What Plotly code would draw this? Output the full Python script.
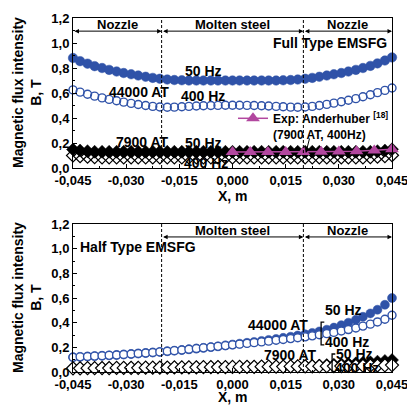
import plotly.graph_objects as go

# ---------------- data ----------------
x_pos = [-0.0450, -0.0430, -0.0409, -0.0389, -0.0368, -0.0348, -0.0327, -0.0307, -0.0286,
         -0.0266, -0.0245, -0.0225, -0.0205, -0.0184, -0.0164, -0.0143, -0.0123, -0.0102,
         -0.0082, -0.0061, -0.0041, -0.0020, 0.0000, 0.0020, 0.0041, 0.0061, 0.0082,
         0.0102, 0.0123, 0.0143, 0.0164, 0.0184, 0.0205, 0.0225, 0.0245, 0.0266, 0.0286,
         0.0307, 0.0327, 0.0348, 0.0368, 0.0389, 0.0409, 0.0430, 0.0450]

full_44000_50 = [0.880, 0.855, 0.835, 0.815, 0.800, 0.785, 0.772, 0.760, 0.750, 0.740, 0.730,
                 0.721, 0.714, 0.708, 0.704, 0.702, 0.700, 0.700, 0.700, 0.700, 0.700, 0.700,
                 0.700, 0.700, 0.700, 0.700, 0.700, 0.700, 0.700, 0.702, 0.704, 0.708, 0.714,
                 0.721, 0.730, 0.740, 0.750, 0.760, 0.772, 0.785, 0.800, 0.817, 0.837, 0.860,
                 0.885]
full_44000_400 = [0.625, 0.607, 0.590, 0.575, 0.561, 0.549, 0.538, 0.527, 0.517, 0.508, 0.500,
                  0.493, 0.488, 0.486, 0.487, 0.490, 0.493, 0.496, 0.498, 0.500, 0.501, 0.502,
                  0.502, 0.502, 0.501, 0.500, 0.498, 0.496, 0.493, 0.490, 0.487, 0.486, 0.488,
                  0.493, 0.500, 0.509, 0.519, 0.530, 0.542, 0.555, 0.570, 0.586, 0.603, 0.621,
                  0.640]
full_7900_50 = [0.148, 0.140, 0.135] + [0.130] * 39 + [0.135, 0.140, 0.150]
full_7900_400 = [0.100, 0.094, 0.090, 0.087] + [0.085] * 37 + [0.087, 0.090, 0.095, 0.102]

exp_x = [0.000, 0.005, 0.010, 0.015, 0.020, 0.025, 0.030, 0.035, 0.040, 0.045]
exp_b = [0.128, 0.128, 0.128, 0.128, 0.128, 0.130, 0.132, 0.135, 0.140, 0.150]

half_44000_400 = [0.120, 0.123, 0.126, 0.129, 0.132, 0.135, 0.138, 0.142, 0.146, 0.150, 0.154,
                  0.158, 0.163, 0.168, 0.173, 0.178, 0.184, 0.190, 0.196, 0.202, 0.208, 0.214,
                  0.220, 0.226, 0.232, 0.238, 0.244, 0.250, 0.257, 0.264, 0.271, 0.278, 0.285,
                  0.293, 0.302, 0.311, 0.321, 0.332, 0.344, 0.357, 0.372, 0.388, 0.406, 0.428,
                  0.460]
half_44000_50 = [0.120, 0.123, 0.126, 0.129, 0.132, 0.135, 0.138, 0.142, 0.146, 0.150, 0.154,
                 0.158, 0.163, 0.168, 0.173, 0.178, 0.184, 0.190, 0.196, 0.202, 0.208, 0.216,
                 0.223, 0.230, 0.237, 0.244, 0.252, 0.260, 0.268, 0.277, 0.286, 0.296, 0.306,
                 0.317, 0.329, 0.343, 0.360, 0.380, 0.400, 0.423, 0.448, 0.475, 0.505, 0.545,
                 0.600]
half_7900_400 = [0.030, 0.030, 0.031, 0.031, 0.032, 0.032, 0.033, 0.033, 0.034, 0.034, 0.035,
                 0.035, 0.036, 0.036, 0.037, 0.037, 0.038, 0.038, 0.039, 0.039, 0.040, 0.040,
                 0.041, 0.041, 0.042, 0.042, 0.043, 0.043, 0.044, 0.044, 0.045, 0.045, 0.046,
                 0.046, 0.047, 0.047, 0.048, 0.048, 0.049, 0.050, 0.051, 0.052, 0.053, 0.054,
                 0.056]
half_7900_50 = [0.030, 0.030, 0.031, 0.031, 0.032, 0.032, 0.033, 0.033, 0.034, 0.034, 0.035,
                0.035, 0.036, 0.036, 0.037, 0.037, 0.038, 0.038, 0.039, 0.039, 0.040, 0.040,
                0.041, 0.041, 0.042, 0.042, 0.043, 0.043, 0.044, 0.044, 0.045, 0.047, 0.049,
                0.051, 0.053, 0.056, 0.059, 0.062, 0.066, 0.070, 0.074, 0.079, 0.084, 0.090,
                0.097]

x_tickvals = [-0.045, -0.030, -0.015, 0.000, 0.015, 0.030, 0.045]
x_ticktext = ["-0,045", "-0,030", "-0,015", "0,000", "0,015", "0,030", "0,045"]
y_tickvals = [0.0, 0.2, 0.4, 0.6, 0.8, 1.0, 1.2]
y_ticktext = ["0,0", "0,2", "0,4", "0,6", "0,8", "1,0", "1,2"]

# ---------------- style / layout geometry (pixels) ----------------
BLUE = "#2f52a8"
MAG = "#b2479f"
FONT = "Liberation Sans"
W, H = 407, 406
L, R, T, B = 73, 15, 18, 34          # plot area: x 73..392, y 18..372
PW, PH = W - L - R, H - T - B


def px(xp):  # pixel x -> paper
    return (xp - L) / PW


def py(yp):  # pixel y -> paper
    return (H - B - yp) / PH


fig = go.Figure()


def add(xs, ys, sym, color, size, fill, xa, ya, lw=1.4):
    fig.add_trace(go.Scatter(
        x=xs, y=ys, mode="markers", xaxis=xa, yaxis=ya, showlegend=False, cliponaxis=False,
        marker=dict(symbol=sym, size=size, color=fill,
                    line=dict(color=color, width=lw)), hoverinfo="skip"))


# top panel
add(x_pos, full_44000_50, "circle", BLUE, 9.5, BLUE, "x", "y", 0.5)
add(x_pos, full_44000_400, "circle-open", BLUE, 8, BLUE, "x", "y", 1.4)
add(x_pos, full_7900_400, "diamond-open", "black", 10, "black", "x", "y", 1.2)
add(x_pos, full_7900_50, "diamond", "black", 10, "black", "x", "y", 0.5)
fig.add_trace(go.Scatter(
    x=exp_x, y=exp_b, mode="lines+markers", xaxis="x", yaxis="y", cliponaxis=False,
    name="Exp: Anderhuber <sup>[18]</sup><br>(7900 AT, 400Hz)",
    line=dict(color=MAG, width=1.5),
    marker=dict(symbol="triangle-up", size=12, color=MAG)))

# bottom panel
add(x_pos, half_44000_50, "circle", BLUE, 9, BLUE, "x2", "y2", 0.5)
add(x_pos, half_44000_400, "circle", BLUE, 8, "white", "x2", "y2", 1.4)
add(x_pos, half_7900_50, "diamond", "black", 10, "black", "x2", "y2", 0.5)
add(x_pos, half_7900_400, "diamond", "black", 10, "white", "x2", "y2", 1.2)

top_dom = [py(168), 1.0]
bot_dom = [0.0, py(224)]

tickfont = dict(family=FONT, size=13, color="black", weight="bold")


def xaxis(anchor):
    return dict(domain=[0, 1], anchor=anchor, range=[-0.045, 0.045], automargin=False,
                tickvals=x_tickvals, ticktext=x_ticktext, tickfont=tickfont,
                ticklabeloverflow="allow",
                ticks="inside", ticklen=4, tickcolor="black",
                minor=dict(ticks="inside", ticklen=2, dtick=0.0075, tick0=-0.045,
                           tickcolor="black"),
                showline=True, linecolor="black", linewidth=1, mirror=True,
                showgrid=False, zeroline=False)


def yaxis(dom, anchor):
    return dict(domain=dom, anchor=anchor, range=[0, 1.2], automargin=False,
                tickvals=y_tickvals, ticktext=y_ticktext, tickfont=tickfont,
                ticklabeloverflow="allow",
                ticks="inside", ticklen=4, tickcolor="black",
                minor=dict(ticks="inside", ticklen=2, dtick=0.1, tickcolor="black"),
                showline=True, linecolor="black", linewidth=1, mirror=True,
                showgrid=False, zeroline=False)


fig.update_layout(
    width=W, height=H, margin=dict(l=L, r=R, t=T, b=B, pad=0, autoexpand=False),
    paper_bgcolor="white", plot_bgcolor="white",
    font=dict(family=FONT, color="black", weight="bold"),
    xaxis=xaxis("y"), yaxis=yaxis(top_dom, "x"),
    xaxis2=xaxis("y2"), yaxis2=yaxis(bot_dom, "x2"),
    showlegend=True,
    legend=dict(x=px(233), y=py(104), xanchor="left", yanchor="top",
                bgcolor="rgba(0,0,0,0)", borderwidth=0, itemwidth=30, valign="top",
                font=dict(family=FONT, size=12, color="black", weight="bold")),
)

shapes = []
for xr, yr, xv in [("x", "y", -0.02), ("x", "y", 0.02), ("x2", "y2", -0.02), ("x2", "y2", 0.02)]:
    shapes.append(dict(type="line", xref=xr, yref=yr, x0=xv, x1=xv, y0=0, y1=1.2,
                       line=dict(color="black", width=1, dash="3px,2px")))
# brackets grouping 50 Hz / 400 Hz labels (bottom panel)
for bx, by0, by1 in [(0.0250, 0.22, 0.405), (0.0281, 0.005, 0.146)]:
    shapes.append(dict(type="path", xref="x2", yref="y2",
                       path=f"M {bx + 0.0009},{by1} L {bx},{by1} L {bx},{by0} L {bx + 0.0009},{by0}",
                       line=dict(color="black", width=1.3)))
fig.update_layout(shapes=shapes)

ann = []


def txt(t, x, y, xr, yr, size=14, xanchor="center"):
    ann.append(dict(text=t, x=x, y=y, xref=xr, yref=yr, showarrow=False, xanchor=xanchor,
                    yanchor="middle",
                    font=dict(family=FONT, size=size, color="black", weight="bold")))


def band(x0, x1, y, xr, yr):
    ann.append(dict(text="", x=x1, y=y, ax=x0, ay=y, xref=xr, yref=yr, axref=xr, ayref=yr,
                    showarrow=True, arrowside="end+start", arrowhead=2, arrowsize=0.9,
                    arrowwidth=1, arrowcolor="black", standoff=0, startstandoff=0))


# top panel texts
band(-0.045, -0.02, 1.095, "x", "y")
band(-0.02, 0.02, 1.095, "x", "y")
band(0.02, 0.045, 1.095, "x", "y")
txt("Nozzle", -0.0325, 1.15, "x", "y", 13)
txt("Molten steel", 0.0, 1.15, "x", "y", 13)
txt("Nozzle", 0.0325, 1.15, "x", "y", 13)
txt("Full Type EMSFG", 0.0442, 1.0, "x", "y", 14, "right")
txt("50 Hz", -0.0083, 0.78, "x", "y")
txt("44000 AT", -0.0264, 0.61, "x", "y")
txt("400 Hz", -0.0083, 0.58, "x", "y")
txt("7900 AT", -0.0255, 0.21, "x", "y")
txt("50 Hz", -0.0083, 0.20, "x", "y")
txt("400 Hz", -0.0075, 0.04, "x", "y")
ann.append(dict(text="", x=0.0207, y=0.12, xref="x", yref="y", ax=4, ay=-16,
                showarrow=True, arrowhead=2, arrowsize=0.9, arrowwidth=1,
                arrowcolor="black"))

# bottom panel texts
band(-0.02, 0.02, 1.095, "x2", "y2")
band(0.02, 0.045, 1.095, "x2", "y2")
txt("Molten steel", 0.0, 1.145, "x2", "y2", 13)
txt("Nozzle", 0.0325, 1.145, "x2", "y2", 13)
txt("Half Type EMSFG", -0.0268, 1.01, "x2", "y2", 14)
txt("50 Hz", 0.0312, 0.50, "x2", "y2")
txt("44000 AT", 0.0128, 0.38, "x2", "y2")
txt("400 Hz", 0.0322, 0.245, "x2", "y2")
txt("7900 AT", 0.0165, 0.14, "x2", "y2")
txt("50 Hz", 0.0343, 0.145, "x2", "y2")
txt("400 Hz", 0.035, 0.03, "x2", "y2")

# axis titles
for yc in [93, 298]:
    ann.append(dict(text="Magnetic flux intensity<br>B, T", x=px(27), y=py(yc),
                    xref="paper", yref="paper", xanchor="center", yanchor="middle",
                    showarrow=False, textangle=-90,
                    font=dict(family=FONT, size=14, color="black", weight="bold")))
for yc in [196, 397]:
    ann.append(dict(text="X, m", x=px(233), y=py(yc), xref="paper", yref="paper",
                    xanchor="center", yanchor="middle", showarrow=False,
                    font=dict(family=FONT, size=14, color="black", weight="bold")))

fig.update_layout(annotations=ann)
fig.write_html("out.html", config={"displayModeBar": False},
               post_script="document.body.style.margin='0';document.body.style.overflow='hidden';")
